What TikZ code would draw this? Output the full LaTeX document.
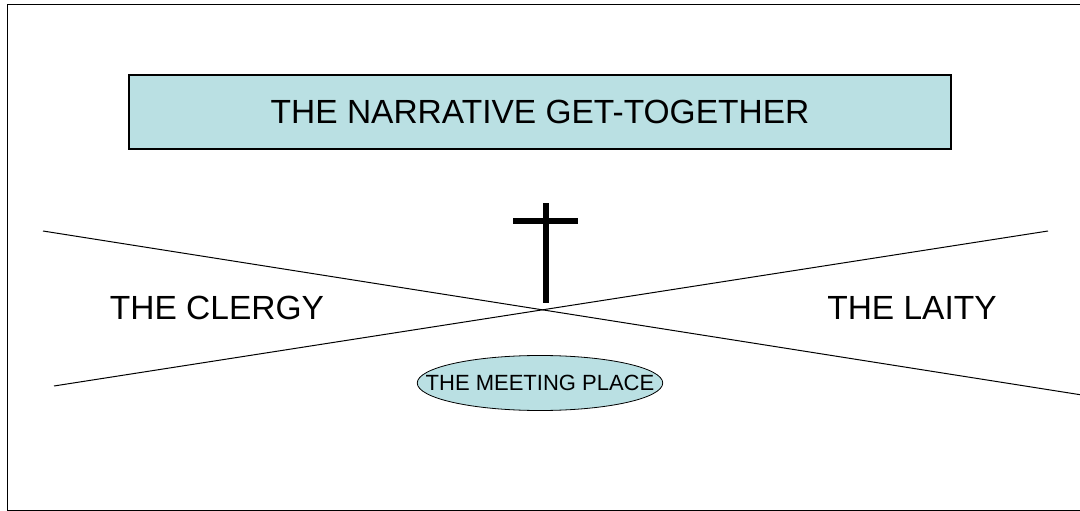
\documentclass[tikz,border=0pt]{standalone}
\usepackage{fontspec}
\setmainfont{Liberation Sans}
\usetikzlibrary{shapes.geometric}
\definecolor{paleblue}{RGB}{186,224,227}

\begin{document}
\begin{tikzpicture}[
    x=1pt, y=-1pt,
    every node/.style={inner sep=0pt, text=black},
    banner/.style={draw=black, line width=1.5pt, fill=paleblue,
      minimum width=822pt, minimum height=74pt, font=\fontsize{33.5}{40}\selectfont},
    place/.style={ellipse, draw=black, line width=0.8pt, fill=paleblue,
      inner xsep=-27.5pt, minimum height=55pt, font=\fontsize{22}{26}\selectfont},
    side/.style={font=\fontsize{33.5}{40}\selectfont}
    ]
    \useasboundingbox (0,0) rectangle (1080,511);
    \draw[line width=1pt] (7,5) rectangle (1090,510);

    \node[banner] (title) at (540,112) {THE NARRATIVE GET-TOGETHER};

    % the two crossing lines
    \coordinate (clergytop) at (43,231);
    \coordinate (laitybot) at (1082,395);
    \coordinate (clergybot) at (54,386);
    \coordinate (laitytop) at (1048,231);
    \draw[line width=1pt] (clergytop) -- (laitybot);
    \draw[line width=1pt] (clergybot) -- (laitytop);

    % cross
    \draw[line width=6pt] (546,203) -- (546,303);
    \draw[line width=6pt] (513,221) -- (578,221);

    \node[side] (clergy) at (217,308) {THE CLERGY};
    \node[side] (laity) at (912,308) {THE LAITY};
    \node[place] (meeting) at (540,383) {THE MEETING PLACE};
\end{tikzpicture}
\end{document}
